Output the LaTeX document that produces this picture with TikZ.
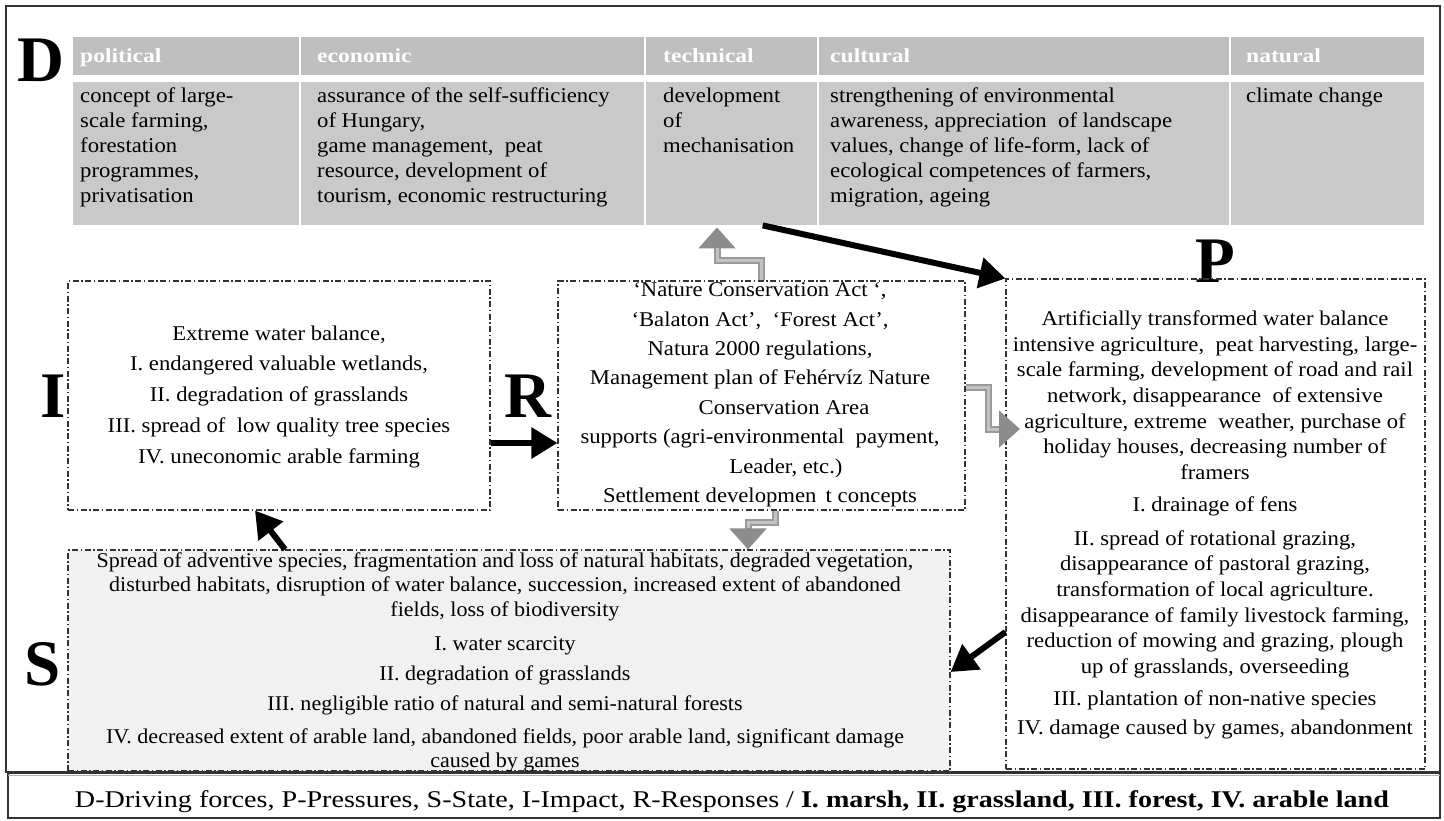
\documentclass[tikz,border=0pt]{standalone}
\usepackage{fontspec}
\setmainfont{Liberation Serif}
\newfontfamily\bodyf[FakeStretch=1.08]{Liberation Serif}
\newfontfamily\sfnt[FakeStretch=1.05]{Liberation Serif}
\newfontfamily\hdf[FakeStretch=1.18]{Liberation Serif}
\newfontfamily\capf[FakeStretch=1.17]{Liberation Serif}
\usetikzlibrary{arrows.meta,calc}
\definecolor{hgray}{HTML}{BFBFBF}
\definecolor{bgray}{HTML}{C9C9C9}
\definecolor{sgray}{HTML}{F1F1F1}
\definecolor{gouter}{HTML}{9A9A9A}
\definecolor{ginner}{HTML}{C2C2C2}
\definecolor{ghead}{HTML}{8C8C8C}
\tikzset{
  dd/.style={draw=black!80, line width=1.1pt, dash pattern=on 6pt off 2.5pt on 1.5pt off 2.5pt},
  big/.style={font=\fontsize{65}{65}\selectfont\bfseries, inner sep=0pt, anchor=base},
  hcell/.style={fill=hgray, anchor=north west, minimum height=38pt, inner sep=0pt},
  bcell/.style={fill=bgray, anchor=north west, minimum height=143pt, inner sep=0pt},
  htxt/.style={font=\hdf\bfseries\fontsize{20}{22}\selectfont, text=white, anchor=base west, inner sep=0pt},
  ttxt/.style={font=\bodyf\fontsize{21}{25}\selectfont, align=left, anchor=north west, inner sep=0pt},
  btxt/.style={font=\bodyf\fontsize{21}{24}\selectfont, align=center, anchor=north, inner sep=0pt},
  blk/.style={line width=6pt, draw=black, -{Triangle[length=26pt,width=30pt]}},
  gout/.style={line width=7pt, draw=gouter, -{Triangle[length=21pt,width=36pt,fill=ghead,color=ghead]}},
  gin/.style={line width=3pt, draw=ginner, shorten >=21pt},
}
\begin{document}
\begin{tikzpicture}[x=1pt,y=-1pt]
\useasboundingbox (0,0) rectangle (1444,820);
\fill[white] (0,0) rectangle (1444,820);
% outer frame
\draw[line width=1.5pt, black!80] (6,6) rectangle (1440,772);
% caption box
\draw[line width=1.2pt, black!80] (8,773) rectangle (1440,818);
\draw[line width=1.6pt, gray!60] (8,775.5) -- (1440,775.5);
\node[font=\capf\fontsize{24}{24}\selectfont, inner sep=0pt, anchor=base] (captxt) at (732,807)
  {D-Driving forces, P-Pressures, S-State, I-Impact, R-Responses / \textbf{I. marsh, II. grassland, III. forest, IV. arable land}};

% D table
\node[hcell, minimum width=226pt] (hpol)  at (73,37) {};
\node[hcell, minimum width=343pt] (hecon) at (301,37) {};
\node[hcell, minimum width=171pt] (htech) at (646,37) {};
\node[hcell, minimum width=410pt] (hcult) at (819,37) {};
\node[hcell, minimum width=193pt] (hnat)  at (1231,37) {};
\node[big] (Dl) at (41,81) {D};
\node[htxt] (hpolt)  at (80,62) {political};
\node[htxt] (hecont) at (317,62) {economic};
\node[htxt] (htecht) at (663,62) {technical};
\node[htxt] (hcultt) at (830,62) {cultural};
\node[htxt] (hnatt)  at (1246,62) {natural};
\node[bcell, minimum width=226pt] (bpol)  at (73,82) {};
\node[bcell, minimum width=343pt] (becon) at (301,82) {};
\node[bcell, minimum width=171pt] (btech) at (646,82) {};
\node[bcell, minimum width=410pt] (bcult) at (819,82) {};
\node[bcell, minimum width=193pt] (bnat)  at (1231,82) {};
\node[ttxt] (tpol)  at (80,87.5) {concept of large-\\scale farming,\\forestation\\programmes,\\privatisation};
\node[ttxt] (tecon) at (317,87.5) {assurance of the self-sufficiency\\of Hungary,\\game management, \ peat\\resource, development of\\tourism, economic restructuring};
\node[ttxt] (ttech) at (663,87.5) {development\\of\\mechanisation};
\node[ttxt] (tcult) at (830,87.5) {strengthening of environmental\\awareness, appreciation \ of landscape\\values, change of life-form, lack of\\ecological competences of farmers,\\migration, ageing};
\node[ttxt] (tnat)  at (1246,87.5) {climate change};

% I box
\node[big] (Il) at (53,417) {I};
\node[dd, minimum width=422pt, minimum height=229pt] (ibox) at (279,395.5) {};
\node[btxt, font=\bodyf\fontsize{21}{30.7}\selectfont] (itxt) at (279,325.5)
  {Extreme water balance,\\I. endangered valuable wetlands,\\II. degradation of grasslands\\III. spread of \ low quality tree species\\IV. uneconomic arable farming};

% R box
\node[big] (Rl) at (528,417) {R};
\node[dd, minimum width=407pt, minimum height=229pt] (rbox) at (761.5,395.5) {};
\node[btxt, font=\bodyf\fontsize{21}{29.4}\selectfont] (rtxt) at (760,282.5)
  {‘Nature Conservation Act ‘,\\‘Balaton Act’, \ ‘Forest Act’,\\Natura 2000 regulations,\\Management plan of Fehérvíz Nature\\\hspace*{48pt}Conservation Area\\supports (agri-environmental \ payment,\\\hspace*{52pt}Leader, etc.)\\Settlement developmen \,t concepts};

% P box
\node[big] (Pl) at (1215,282) {P};
\node[dd, minimum width=419pt, minimum height=490pt] (pbox) at (1215.5,524) {};
\node[btxt, font=\bodyf\fontsize{21}{25.7}\selectfont] (ptxt) at (1215,310.5)
  {Artificially transformed water balance\\
   intensive agriculture, \ peat harvesting, large-\\
   scale farming, development of road and rail\\
   network, disappearance \ of extensive\\
   agriculture, extreme \ weather, purchase of\\
   holiday houses, decreasing number of\\
   framers\\[6pt]
   I. drainage of fens\\[8pt]
   II. spread of rotational grazing,\\
   disappearance of pastoral grazing,\\
   transformation of local agriculture.\\
   disappearance of family livestock farming,\\
   reduction of mowing and grazing, plough\\
   up of grasslands, overseeding\\[6pt]
   III. plantation of non-native species\\[4pt]
   IV. damage caused by games, abandonment};

% S box
\node[big] (Sl) at (43,685) {S};
\node[dd, fill=sgray, minimum width=882pt, minimum height=221pt] (sbox) at (509,660.5) {};
\node[btxt, font=\sfnt\fontsize{21}{24.5}\selectfont] (stxt) at (505,552.5)
  {Spread of adventive species, fragmentation and loss of natural habitats, degraded vegetation,\\
   disturbed habitats, disruption of water balance, succession, increased extent of abandoned\\
   fields, loss of biodiversity\\[9.5pt]
   I. water scarcity\\[5.5pt]
   II. degradation of grasslands\\[5.5pt]
   III. negligible ratio of natural and semi-natural forests\\[8.5pt]
   IV. decreased extent of arable land, abandoned fields, poor arable land, significant damage\\
   caused by games};

% black arrows
\draw[blk] ([xshift=31pt]btech.south) -- (pbox.north west);
\draw[blk] ([yshift=-47.5pt]ibox.east) -- ([yshift=-47.5pt]rbox.west);
\draw[blk] ([xshift=-224pt]sbox.north) -- ([xshift=-24pt]ibox.south);
\draw[blk] ([yshift=-108pt]pbox.west) -- ([yshift=-11.5pt]sbox.east);

% gray zigzag arrows
\coordinate (gk1) at (717,260);
\coordinate (gk2) at (988,429);
\coordinate (ptip) at (1020,429);
\coordinate (gk3) at (748,522);
\foreach \s in {gout,gin}{
  \draw[\s] (rbox.north) |- (gk1) -- ([yshift=-2pt]gk1 |- btech.south);
  \draw[\s] ([yshift=8pt]rbox.east) -| (gk2) -- (ptip);
  \draw[\s] ([xshift=13.5pt]rbox.south) |- (gk3) -- (gk3 |- sbox.north);
}
\end{tikzpicture}
\end{document}
